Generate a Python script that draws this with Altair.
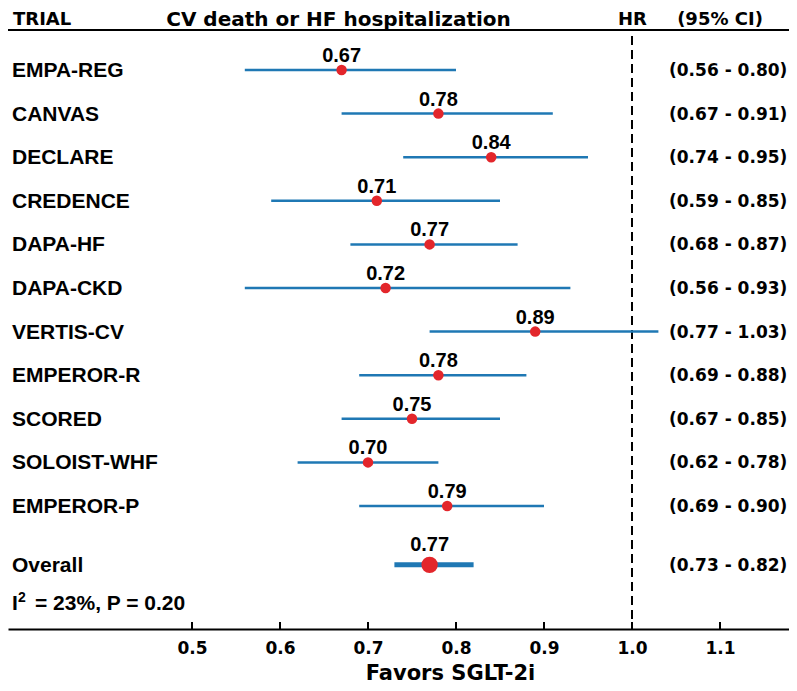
import altair as alt
import pandas as pd

# ---- data ----
trials = ["EMPA-REG", "CANVAS", "DECLARE", "CREDENCE", "DAPA-HF", "DAPA-CKD",
          "VERTIS-CV", "EMPEROR-R", "SCORED", "SOLOIST-WHF", "EMPEROR-P"]
hr = [0.67, 0.78, 0.84, 0.71, 0.77, 0.72, 0.89, 0.78, 0.75, 0.70, 0.79]
ci_low = [0.56, 0.67, 0.74, 0.59, 0.68, 0.56, 0.77, 0.69, 0.67, 0.62, 0.69]
ci_high = [0.80, 0.91, 0.95, 0.85, 0.87, 0.93, 1.03, 0.88, 0.85, 0.78, 0.90]
overall_name = "Overall"
overall_hr = 0.77
overall_low = 0.73
overall_high = 0.82
het_symbol = "I"
het_sup = "2"
het_rest = "= 23%, P = 0.20"
tick_values = [0.5, 0.6, 0.7, 0.8, 0.9, 1.0, 1.1]
reference_hr = 1.0
header_trial = "TRIAL"
header_title = "CV death or HF hospitalization"
header_hr = "HR"
header_ci = "(95% CI)"
x_title = "Favors SGLT-2i"

# ---- table ----
n = len(trials)
rows = list(range(n)) + [n - 1 + 1.35]
df = pd.DataFrame({
    "trial": trials + [overall_name],
    "hr": hr + [overall_hr],
    "lo": ci_low + [overall_low],
    "hi": ci_high + [overall_high],
    "row": rows,
    "kind": ["trial"] * n + ["overall"],
})
df["label"] = df["hr"].map(lambda v: f"{v:.2f}")
df["ci"] = [f"({a:.2f} - {b:.2f})" for a, b in zip(df["lo"], df["hi"])]

W, H = 781, 621
BLUE = "#1f78b4"
RED = "#e3262b"

xscale = alt.Scale(domain=[1 - 624 / 880, 1 + (W - 624) / 880], nice=False, zero=False)
yscale = alt.Scale(domain=[-1.422, 12.821], reverse=True, nice=False, zero=False)
xaxis = alt.Axis(values=tick_values, format=".1f", title=x_title, titleX=442, titleY=44,
                 titleAlign="center", titleBaseline="middle", titleFont="DejaVu Sans",
                 titleFontSize=21, titleFontWeight="bold", titleColor="black")

def X(field):
    return alt.X(field, type="quantitative", scale=xscale, axis=xaxis)

def Y(field):
    return alt.Y(field, type="quantitative", scale=yscale, axis=None)

base = alt.Chart(df)
trials_only = base.transform_filter(alt.datum.kind == "trial")
overall_only = base.transform_filter(alt.datum.kind == "overall")

ci_lines = trials_only.mark_rule(color=BLUE, strokeWidth=2.5).encode(
    x=X("lo"), x2="hi", y=Y("row"))
ci_overall = overall_only.mark_rule(color=BLUE, strokeWidth=5).encode(
    x=X("lo"), x2="hi", y=Y("row"))
pts = trials_only.mark_circle(color=RED, opacity=1, size=110).encode(x=X("hr"), y=Y("row"))
pt_overall = overall_only.mark_circle(color=RED, opacity=1, size=270).encode(x=X("hr"), y=Y("row"))

hr_labels = trials_only.mark_text(font="Liberation Sans", fontWeight="bold", fontSize=20,
                                  color="black", baseline="middle", dy=-14).encode(
    x=X("hr"), y=Y("row"), text="label:N")
hr_label_overall = overall_only.mark_text(font="Liberation Sans", fontWeight="bold", fontSize=20,
                                          color="black", baseline="middle", dy=-20).encode(
    x=X("hr"), y=Y("row"), text="label:N")

names = base.mark_text(font="Liberation Sans", fontWeight="bold", fontSize=21, color="black",
                       align="left", baseline="middle", dy=1).encode(
    x=alt.value(4), y=Y("row"), text="trial:N")
ci_text = base.mark_text(font="DejaVu Sans", fontWeight="bold", fontSize=17, color="black",
                         align="left", baseline="middle", dy=1).encode(
    x=alt.value(661), y=Y("row"), text="ci:N")

ref_line = alt.Chart(pd.DataFrame({"ref": [reference_hr]})).mark_rule(
    color="black", strokeWidth=2, strokeDash=[9, 5]).encode(
    x=X("ref"), y=alt.value(28), y2=alt.value(H))

ticks = alt.Chart(pd.DataFrame({"tick": tick_values})).mark_rule(
    color="black", strokeWidth=2).encode(x=X("tick"), y=alt.value(H - 7), y2=alt.value(H))

header_rule = alt.Chart(pd.DataFrame({"a": [0]})).mark_rule(color="black", strokeWidth=2).encode(
    x=alt.value(0), x2=alt.value(W), y=alt.value(22))

def header(text, x, size, align="center"):
    return alt.Chart(pd.DataFrame({"t": [text]})).mark_text(
        font="DejaVu Sans", fontWeight="bold", fontSize=size, color="black",
        align=align, baseline="middle").encode(x=alt.value(x), y=alt.value(12), text="t:N")

h1 = header(header_trial, 5, 18, "left")
h2 = header(header_title, 330.5, 20)
h3 = header(header_hr, 624.5, 18)
h4 = header(header_ci, 712, 18)

def note(text, x, y, size):
    return alt.Chart(pd.DataFrame({"t": [text]})).mark_text(
        font="Liberation Sans", fontWeight="bold", fontSize=size, color="black",
        align="left", baseline="middle").encode(x=alt.value(x), y=alt.value(y), text="t:N")

het1 = note(het_symbol, 4, 596, 21)
het2 = note(het_sup, 10, 590, 14)
het3 = note(het_rest, 27, 596, 21)

chart = alt.layer(
    ref_line, ticks, header_rule, ci_lines, ci_overall, pts, pt_overall,
    hr_labels, hr_label_overall, names, ci_text, h1, h2, h3, h4, het1, het2, het3
).properties(
    width=W, height=H,
    autosize=alt.AutoSizeParams(type="none"),
    padding={"left": 0, "top": 0, "right": 0, "bottom": 54},
    background="white",
).configure_view(stroke=None).configure_axis(
    grid=False, ticks=False, domainColor="black", domainWidth=2,
    labelFont="DejaVu Sans", labelFontWeight="bold", labelFontSize=17,
    labelColor="black", labelPadding=11,
)

chart.save("out.html", embed_options={"renderer": "svg", "actions": False})
